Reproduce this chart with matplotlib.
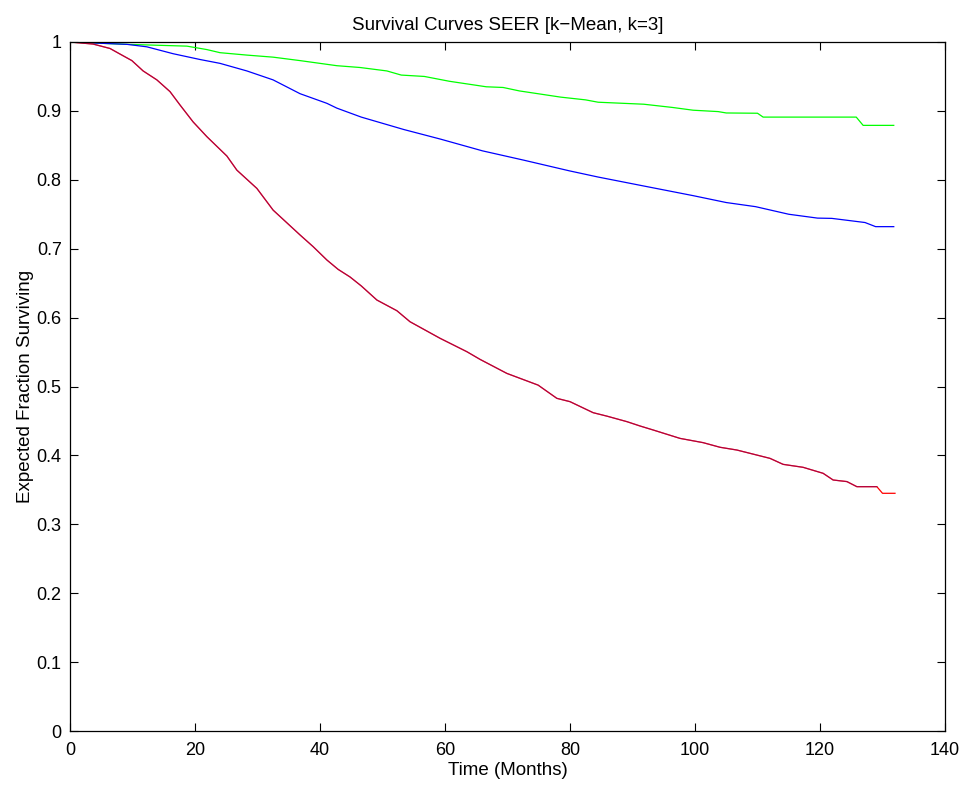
import matplotlib
matplotlib.use("Agg")
import matplotlib.pyplot as plt
from matplotlib.ticker import FixedLocator, FixedFormatter

plt.rcParams['font.family'] = ['Liberation Sans', 'DejaVu Sans']

# Cluster 1 (green) - best survival
t_green = [0, 9.1, 18.7, 21.9, 24, 28.3, 32.5, 36.8, 42.7, 46.4, 50.7, 53, 56.7, 60.7,
           66.6, 69.3, 71.9, 78.5, 82.5, 84.5, 91.8, 96.4, 99.7, 103.7, 105, 110,
           110.9, 125.8, 126.9, 131.8]
s_green = [1.0, 0.9966, 0.994, 0.989, 0.9845, 0.981, 0.978, 0.973, 0.9656, 0.963, 0.958,
           0.952, 0.950, 0.943, 0.935, 0.934, 0.929, 0.920, 0.916, 0.9126, 0.9097, 0.905,
           0.901, 0.899, 0.897, 0.8966, 0.891, 0.891, 0.879, 0.879]

# Cluster 2 (blue)
t_blue = [0, 9.1, 12.3, 16.5, 20.8, 24, 28.3, 32.5, 36.8, 41.1, 42.7, 46.6, 53.4, 59.3,
          66, 72.6, 79.9, 84.5, 91.8, 99.7, 105, 109.7, 115, 119.6, 121.9, 127.2,
          128.9, 131.8]
s_blue = [1.0, 0.9966, 0.993, 0.983, 0.9746, 0.969, 0.958, 0.945, 0.925, 0.911, 0.904,
          0.891, 0.873, 0.859, 0.842, 0.8285, 0.813, 0.804, 0.791, 0.777, 0.767, 0.761,
          0.750, 0.7444, 0.744, 0.738, 0.732, 0.732]

# Cluster 3 (red) - worst survival
t_red = [0, 3.7, 6.4, 8.3, 9.9, 11.7, 13.9, 16, 17.6, 19.7, 21.9, 25.1, 26.7, 29.9, 32.5,
         36.8, 38.9, 41.1, 42.9, 44.8, 46.6, 49.1, 52.3, 54.4, 59.2, 63.5, 65.6, 69.9,
         74.9, 77.9, 80, 83.7, 85.9, 89.1, 91.2, 93.3, 97.6, 101.3, 104, 106.7, 112,
         114.1, 117.3, 120.5, 122.1, 124.3, 125.9, 129.1, 130, 132]
s_red = [1.0, 0.997, 0.9906, 0.981, 0.973, 0.958, 0.945, 0.928, 0.9086, 0.884, 0.8626,
         0.8345, 0.814, 0.7875, 0.756, 0.720, 0.703, 0.6836, 0.670, 0.659, 0.646, 0.6255,
         0.610, 0.594, 0.570, 0.5505, 0.5394, 0.519, 0.502, 0.4828, 0.478, 0.462, 0.457,
         0.449, 0.4427, 0.4369, 0.4247, 0.4185, 0.4118, 0.4078, 0.3957, 0.387, 0.3827,
         0.374, 0.3643, 0.362, 0.3546, 0.3546, 0.345, 0.345]

x_ticks = [0, 20, 40, 60, 80, 100, 120, 140]
y_ticks = [0, 0.1, 0.2, 0.3, 0.4, 0.5, 0.6, 0.7, 0.8, 0.9, 1.0]
y_tick_labels = ['0', '0.1', '0.2', '0.3', '0.4', '0.5', '0.6', '0.7', '0.8', '0.9', '1']

fig = plt.figure(figsize=(9.66, 7.85), dpi=100)
ax = fig.add_axes([70/966, 54/785, 875/966, 689/785])

ax.plot(t_green, s_green, color='#00FF00', lw=0.9)
ax.plot(t_blue, s_blue, color='#0000FF', lw=0.9)
ax.plot(t_red, s_red, color='#FF0000', lw=0.9)
n_purple = len(t_red) - 2
ax.plot(t_red[:n_purple], s_red[:n_purple], color='#800060', lw=0.9, alpha=0.6)

ax.set_xlim(0, 140)
ax.set_ylim(0, 1)
ax.xaxis.set_major_locator(FixedLocator(x_ticks))
ax.yaxis.set_major_locator(FixedLocator(y_ticks))
ax.yaxis.set_major_formatter(FixedFormatter(y_tick_labels))

ax.tick_params(direction='in', length=6, width=0.8, top=True, right=True,
               labelsize=13, colors='black')
ax.tick_params(axis='x', pad=8)
ax.tick_params(axis='y', pad=6)
for sp in ax.spines.values():
    sp.set_linewidth(0.9)

ax.set_title('Survival Curves SEER [k\u2212Mean, k=3]', fontsize=13.5, pad=9)
ax.set_xlabel('Time (Months)', fontsize=13.5, labelpad=2)
ax.set_ylabel('Expected Fraction Surviving', fontsize=13.5, labelpad=2)

fig.savefig('out.png', dpi=100)
